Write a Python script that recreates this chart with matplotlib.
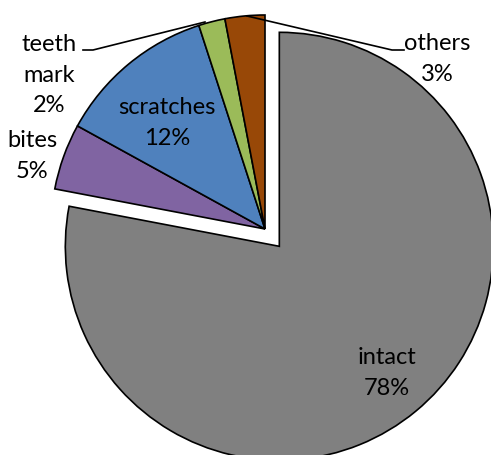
import matplotlib.pyplot as plt

# slice data, clockwise from 12 o'clock
labels = ['intact', 'bites', 'scratches', 'teeth\nmark', 'others']
values = [78, 5, 12, 2, 3]
colors = ['#808080', '#8064A2', '#4F81BD', '#9BBB59', '#984807']

W, H = 491, 455
fig = plt.figure(figsize=(W / 100, H / 100), dpi=100)
ax = fig.add_axes([0, 0, 1, 1])

cx, cy, r = 265, H - 229, 214
# explode is in data units when radius is given
explode = [0.105 * r, 0, 0, 0, 0]
wedges, _ = ax.pie(values, colors=colors, explode=explode, startangle=90,
                   counterclock=False, center=(cx, cy), radius=r,
                   wedgeprops=dict(edgecolor='black', linewidth=1.2))
ax.set_xlim(0, W)
ax.set_ylim(0, H)
ax.set_aspect('equal')
ax.axis('off')

fs = 17
fam = ['Lato', 'DejaVu Sans']
ls = 1.55
pct = ['%d%%' % v for v in values]

# inside labels
ax.text(387, H - 373, labels[0] + '\n' + pct[0], ha='center', va='center',
        fontsize=fs, family=fam, linespacing=ls)
ax.text(167, H - 123, labels[2] + '\n' + pct[2], ha='center', va='center',
        fontsize=fs, family=fam, linespacing=ls)

# outside labels
ax.text(49, H - 75, labels[3] + '\n' + pct[3], ha='center', va='center',
        fontsize=fs, family=fam, linespacing=ls)
ax.text(32, H - 156, labels[1] + '\n' + pct[1], ha='center', va='center',
        fontsize=fs, family=fam, linespacing=ls)
ax.text(437, H - 59, labels[4] + '\n' + pct[4], ha='center', va='center',
        fontsize=fs, family=fam, linespacing=ls)

# leader lines
ax.plot([205, 93, 83], [H - 22, H - 50, H - 50], color='black', lw=1.2)
ax.plot([247, 392, 404], [H - 16, H - 50, H - 50], color='black', lw=1.2)

fig.savefig('out.png', dpi=100)
